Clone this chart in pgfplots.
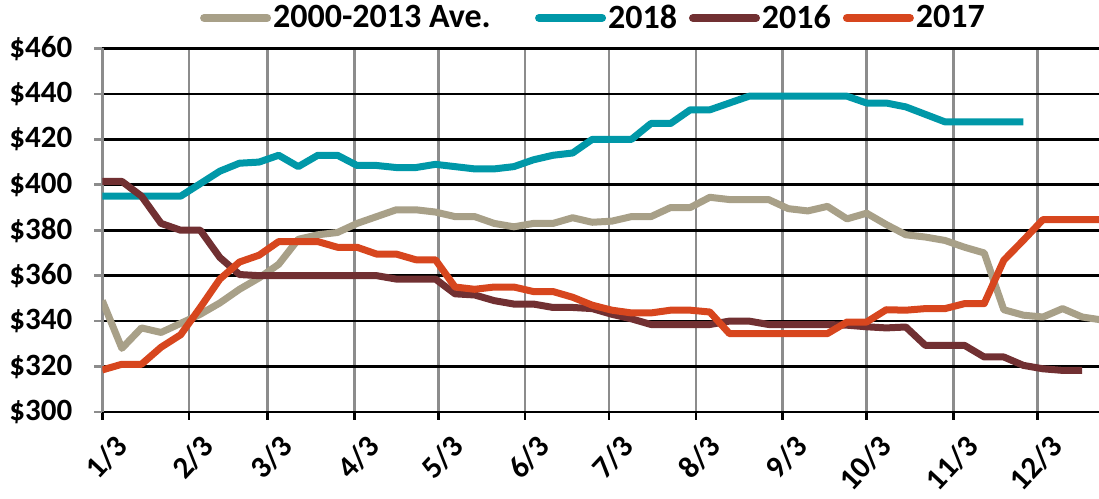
\documentclass[border=0pt]{standalone}
\usepackage{fontspec}
\setmainfont{Carlito}
\usepackage{pgfplots}
\pgfplotsset{compat=1.18}
\definecolor{cavg}{RGB}{168,160,136}
\definecolor{c18}{RGB}{0,152,168}
\definecolor{c16}{RGB}{113,48,50}
\definecolor{c17}{RGB}{215,70,30}
\definecolor{gridgray}{RGB}{140,140,140}
\begin{document}
\begin{tikzpicture}
\begin{axis}[
  at={(0,0)}, anchor=south west,
  scale only axis, width=498.4pt, height=181.75pt,
  xmin=0, xmax=356, ymin=300, ymax=460,
  axis lines=left, axis line style={-},
  x axis line style={black, line width=1.3pt},
  y axis line style={gridgray, line width=1.3pt},
  xtick={0,31,59,90,120,151,181,212,243,273,304,334},
  xticklabels={1/3,2/3,3/3,4/3,5/3,6/3,7/3,8/3,9/3,10/3,11/3,12/3},
  ytick={300,320,340,360,380,400,420,440,460},
  yticklabels={\$300,\$320,\$340,\$360,\$380,\$400,\$420,\$440,\$460},
  grid=major,
  x grid style={gridgray, line width=1.3pt},
  y grid style={black, line width=1.3pt},
  tick align=outside, major tick length=4pt,
  xtick style={black, line width=1.3pt},
  ytick style={gridgray, line width=1.3pt},
  yticklabel style={font=\bfseries\fontsize{15.5}{16}\selectfont, xshift=-7.5pt},
  xticklabel style={font=\bfseries\fontsize{15.5}{16}\selectfont, xshift=12pt, yshift=-8pt, rotate=47, anchor=east},
  no markers,
  every axis plot/.append style={line width=3.5pt, line join=round},
  legend columns=4,
  legend style={at={(0.4928,1.084)}, anchor=center, draw=none, fill=none,
    font=\bfseries\fontsize{17}{18}\selectfont,
    nodes={inner xsep=1pt},
    /tikz/every even column/.append style={column sep=5pt}},
  legend image code/.code={\draw[#1, line width=4pt, line cap=round] (0pt,0pt) -- (31.5pt,0pt);},
]
\addplot[cavg] coordinates {(0,349)(7,328)(14,337)(21,335)(28,339)(35,343)(42,348)(49,354)(56,359)(63,365)(70,376)(77,378)(84,379)(91,383)(98,386)(105,389)(112,389)(119,388)(126,386)(133,386)(140,383)(147,381.5)(154,383)(161,383)(168,385.5)(175,383.5)(182,384)(189,386)(196,386)(203,390)(210,390)(217,394.5)(224,393.5)(231,393.5)(238,393.5)(245,389.5)(252,388.5)(259,390.5)(266,385)(273,387.5)(280,382.5)(287,378)(294,377)(301,375.5)(308,372.5)(315,370)(322,345)(329,342.6)(336,341.8)(343,345.5)(350,341.8)(357,340.5)};
\addlegendentry{\makebox[125pt][l]{2000-2013 Ave.}}
\addplot[c18] coordinates {(0,395)(7,395)(14,395)(21,395)(28,395)(35,400.5)(42,406)(49,409.5)(56,410)(63,413)(70,408)(77,413)(84,413)(91,408.5)(98,408.5)(105,407.6)(112,407.6)(119,409)(126,408)(133,407)(140,407)(147,408)(154,411)(161,413)(168,414)(175,420)(182,420)(189,420)(196,427)(203,427)(210,433)(217,433)(224,436)(231,439)(238,439)(245,439)(252,439)(259,439)(266,439)(273,436)(280,436)(287,434.3)(294,431)(301,427.7)(308,427.7)(315,427.7)(322,427.7)(329,427.7)};
\addlegendentry{2018}
\addplot[c16] coordinates {(0,401.5)(7,401.5)(14,395)(21,383)(28,380)(35,380)(42,368)(49,360.5)(56,360)(63,360)(70,360)(77,360)(84,360)(91,360)(98,360)(105,358.5)(112,358.5)(119,358.5)(126,352)(133,351.5)(140,349)(147,347.5)(154,347.5)(161,346)(168,346)(175,345.5)(182,343)(189,341)(196,338.5)(203,338.5)(210,338.5)(217,338.5)(224,340)(231,340)(238,338.5)(245,338.5)(252,338.5)(259,338.5)(266,338.2)(273,337.5)(280,337)(287,337.4)(294,329.3)(301,329.3)(308,329.3)(315,324.2)(322,324.2)(329,320.5)(336,319)(343,318.3)(350,318.3)};
\addlegendentry{2016}
\addplot[c17] coordinates {(0,318.5)(7,321)(14,321)(21,328.5)(28,334)(35,346)(42,358.5)(49,366)(56,369)(63,375)(70,375)(77,375)(84,372.5)(91,372.5)(98,369.5)(105,369.5)(112,367)(119,367)(126,355)(133,354)(140,355)(147,355)(154,353)(161,353)(168,350.5)(175,347)(182,344.8)(189,343.6)(196,343.6)(203,344.8)(210,344.8)(217,344)(224,334.5)(231,334.5)(238,334.5)(245,334.5)(252,334.5)(259,334.5)(266,339.6)(273,339.6)(280,345)(287,344.8)(294,345.5)(301,345.5)(308,347.7)(315,347.7)(322,366.8)(329,375.6)(336,384.7)(343,384.7)(350,384.7)(357,384.7)};
\addlegendentry{2017}
\end{axis}
\pgfresetboundingbox
\path[use as bounding box] (-51.15pt,-43.5pt) rectangle (498.4pt,206pt);
\end{tikzpicture}
\end{document}
